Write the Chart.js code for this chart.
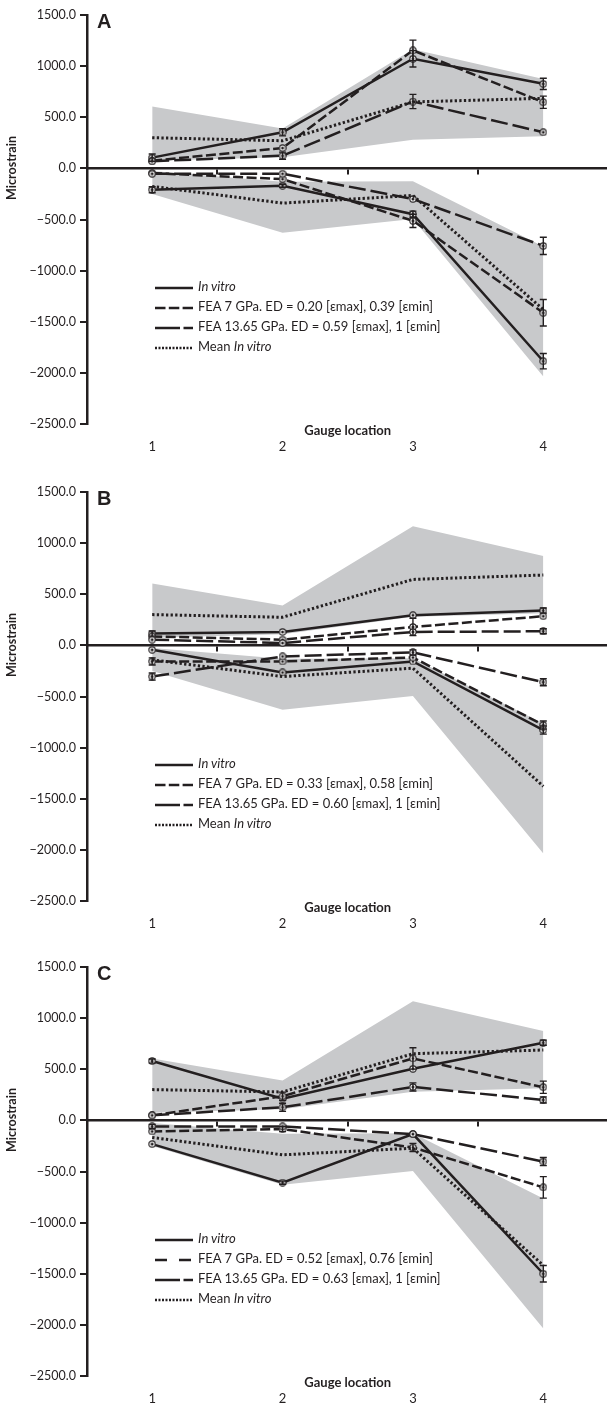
<!DOCTYPE html>
<html>
<head>
<meta charset="utf-8">
<script src="https://cdn.jsdelivr.net/npm/chart.js@4.4.1/dist/chart.umd.min.js"></script>
<style>
html, body { margin: 0; padding: 0; background: #fff; width: 607px; height: 1405px; overflow: hidden; }
.panel { position: absolute; left: 0; width: 615px; height: 456px; }
.panel canvas { position: absolute; left: 0; top: 0; }
.letter { position: absolute; left: 97px; top: 11px; font: bold 20px "Liberation Sans", Arial, sans-serif; line-height: 1; color: #231f20; }
.ytitle { position: absolute; left: -38px; top: 160px; width: 100px; height: 16px; line-height: 16px; text-align: center;
  font: bold 12.5px Lato, sans-serif; color: #231f20; transform: rotate(-90deg); }
.legend { position: absolute; left: 155px; top: 276px; font: 13px Lato, sans-serif; color: #231f20; }
.legend div { height: 20px; line-height: 20px; white-space: nowrap; }
.legend svg { vertical-align: middle; margin-right: 5px; }
</style>
</head>
<body>
<div class="panel" id="pA" style="top:0px"><canvas id="cA" width="615" height="456"></canvas></div>
<div class="panel" id="pB" style="top:477px"><canvas id="cB" width="615" height="456"></canvas></div>
<div class="panel" id="pC" style="top:952px"><canvas id="cC" width="615" height="456"></canvas></div>
<script>
var gauges = ['1', '2', '3', '4'];

// grey in vitro range (same for all panels)
var bandMaxHigh = [605, 390, 1165, 875];
var bandMaxLow = [75, 110, 280, 315];
var bandMinHigh = [-25, -130, -125, -765];
var bandMinLow = [-250, -630, -495, -2035];

// panel A
var aVitroMax = [105, 353, 1072, 827];
var aVitroMin = [-209, -170, -448, -1886];
var aFea7Max = [75, 199, 1154, 647];
var aFea7Min = [-46, -105, -513, -1412];
var aFea13Max = [69, 124, 654, 353];
var aFea13Min = [-52, -52, -300, -758];
var aMeanMax = [300, 270, 650, 685];
var aMeanMin = [-176, -340, -265, -1380];
var aVitroMaxErr = [35, 35, 80, 55];
var aVitroMinErr = [30, 15, 30, 75];
var aFea7MaxErr = [0, 0, 100, 60];
var aFea7MinErr = [0, 0, 65, 130];
var aFea13MaxErr = [0, 35, 70, 0];
var aFea13MinErr = [0, 0, 0, 85];

// panel B
var bVitroMax = [115, 131, 295, 340];
var bVitroMin = [-43, -265, -157, -828];
var bFea7Max = [88, 56, 180, 285];
var bFea7Min = [-157, -157, -118, -779];
var bFea13Max = [56, 23, 131, 138];
var bFea13Min = [-305, -108, -69, -360];
var bMeanMax = [301, 275, 645, 688];
var bMeanMin = [-141, -305, -223, -1378];
var bVitroMaxErr = [25, 0, 0, 25];
var bVitroMinErr = [0, 0, 0, 40];
var bFea7MaxErr = [0, 0, 85, 0];
var bFea7MinErr = [35, 0, 0, 40];
var bFea13MaxErr = [0, 0, 0, 25];
var bFea13MinErr = [35, 0, 25, 35];

// panel C
var cVitroMax = [580, 213, 504, 760];
var cVitroMin = [-232, -609, -134, -1500];
var cFea7Max = [49, 236, 606, 324];
var cFea7Min = [-108, -85, -265, -655];
var cFea13Max = [49, 128, 327, 200];
var cFea13Min = [-59, -59, -134, -403];
var cMeanMax = [301, 278, 652, 688];
var cMeanMin = [-167, -337, -272, -1418];
var cVitroMaxErr = [20, 0, 0, 25];
var cVitroMinErr = [0, 15, 0, 80];
var cFea7MaxErr = [0, 40, 105, 60];
var cFea7MinErr = [0, 25, 40, 105];
var cFea13MaxErr = [0, 40, 40, 30];
var cFea13MinErr = [20, 0, 0, 40];

var ink = '#231f20';
var grey = '#c8c9cb';
var fontFam = 'Lato, sans-serif';

// little ringed dot used as marker
var marker = document.createElement('canvas');
marker.width = 8; marker.height = 8;
(function () {
  var m = marker.getContext('2d');
  m.fillStyle = ink; m.beginPath(); m.arc(4, 4, 3.7, 0, Math.PI * 2); m.fill();
  m.fillStyle = '#fff'; m.beginPath(); m.arc(4, 4, 2.6, 0, Math.PI * 2); m.fill();
  m.fillStyle = ink; m.beginPath(); m.arc(4, 4, 1.5, 0, Math.PI * 2); m.fill();
})();

var errorBars = {
  id: 'errorBars',
  afterDatasetsDraw: function (chart) {
    var c = chart.ctx;
    var yScale = chart.scales.y;
    chart.data.datasets.forEach(function (ds, i) {
      if (!ds.errorBars) return;
      var meta = chart.getDatasetMeta(i);
      meta.data.forEach(function (pt, j) {
        var e = ds.errorBars[j];
        if (!e) return;
        var v = ds.data[j];
        var y1 = yScale.getPixelForValue(v + e);
        var y2 = yScale.getPixelForValue(v - e);
        c.save();
        c.strokeStyle = ink;
        c.lineWidth = 1.4;
        c.beginPath();
        c.moveTo(pt.x, y1); c.lineTo(pt.x, y2);
        c.moveTo(pt.x - 3.5, y1); c.lineTo(pt.x + 3.5, y1);
        c.moveTo(pt.x - 3.5, y2); c.lineTo(pt.x + 3.5, y2);
        c.stroke();
        c.restore();
      });
    });
  }
};

function band(data, fill) {
  return { data: data, fill: fill, backgroundColor: grey, borderWidth: 0, pointRadius: 0, order: 10, tension: 0 };
}
function series(data, dash, errs, pts) {
  return {
    data: data, borderColor: ink, borderWidth: pts ? 2.5 : 3, borderDash: dash, borderCapStyle: 'butt', fill: false, tension: 0,
    pointStyle: pts ? marker : 'circle', pointRadius: pts ? 4 : 0, errorBars: errs, order: 1
  };
}

var shortDash = [10, 3.5];
var longDash = [17, 5];
var dotted = [2.3, 2.3];

function makePanel(id, s) {
  return new Chart(document.getElementById(id), {
    type: 'line',
    data: {
      labels: gauges,
      datasets: [
        band(bandMaxHigh, '+1'), band(bandMaxLow, false),
        band(bandMinHigh, '+1'), band(bandMinLow, false),
        series(s.meanMax, dotted, null, false), series(s.meanMin, dotted, null, false),
        series(s.fea13Max, longDash, s.fea13MaxErr, true), series(s.fea13Min, longDash, s.fea13MinErr, true),
        series(s.fea7Max, shortDash, s.fea7MaxErr, true), series(s.fea7Min, shortDash, s.fea7MinErr, true),
        series(s.vitroMax, [], s.vitroMaxErr, true), series(s.vitroMin, [], s.vitroMinErr, true)
      ]
    },
    options: {
      responsive: false,
      animation: false,
      layout: { padding: { top: 15, right: 4, bottom: 0, left: 0 } },
      plugins: { legend: { display: false }, tooltip: { enabled: false } },
      scales: {
        x: {
          type: 'category', position: { y: 0 }, offset: true,
          grid: { display: true, drawOnChartArea: false, drawTicks: true, tickLength: 5, color: ink, lineWidth: 2, offset: true },
          border: { display: true, color: ink, width: 2.5 },
          ticks: { display: false }
        },
        xTitle: {
          type: 'category', position: 'bottom', weight: 0, offset: true,
          grid: { display: false, drawTicks: false }, border: { display: false }, ticks: { display: false },
          title: { display: true, text: 'Gauge location', color: ink, padding: 0, font: { family: fontFam, size: 13, weight: 'bold' } },
          afterFit: function (sc) { sc.height = 15; }
        },
        xLab: {
          type: 'category', position: 'bottom', weight: 1, offset: true,
          grid: { display: false, drawTicks: false }, border: { display: false },
          ticks: { color: ink, padding: 0, font: { family: fontFam, size: 13 } },
          afterFit: function (sc) { sc.height = 17; }
        },
        y: {
          position: 'left', min: -2500, max: 1500,
          ticks: {
            stepSize: 500, color: ink, padding: 4, font: { family: fontFam, size: 12.5 },
            callback: function (v) { return (v < 0 ? '\u2212' : '') + Math.abs(v).toFixed(1); }
          },
          grid: { drawOnChartArea: false, drawTicks: true, tickLength: 7, color: ink, lineWidth: 2 },
          border: { color: ink, width: 2.5 },
          afterFit: function (sc) { sc.width = 87; }
        }
      }
    },
    plugins: [errorBars]
  });
}

function addText(panelId, letter, fea7Text, fea13Text, fea7Dash) {
  var p = document.getElementById(panelId);
  var l = document.createElement('div'); l.className = 'letter'; l.textContent = letter; p.appendChild(l);
  var t = document.createElement('div'); t.className = 'ytitle'; t.textContent = 'Microstrain'; p.appendChild(t);
  function sample(dash) {
    return '<svg width="38" height="6"><line x1="0" y1="3" x2="38" y2="3" stroke="' + ink + '" stroke-width="2.5"' +
      (dash ? ' stroke-dasharray="' + dash + '"' : '') + '/></svg>';
  }
  var lg = document.createElement('div'); lg.className = 'legend';
  lg.innerHTML =
    '<div>' + sample('') + '<i>In vitro</i></div>' +
    '<div>' + sample(fea7Dash) + fea7Text + '</div>' +
    '<div>' + sample('25 3.5 10 10') + fea13Text + '</div>' +
    '<div>' + sample('2 1.5') + 'Mean <i>In vitro</i></div>';
  p.appendChild(lg);
}

makePanel('cA', {
  vitroMax: aVitroMax, vitroMin: aVitroMin, fea7Max: aFea7Max, fea7Min: aFea7Min,
  fea13Max: aFea13Max, fea13Min: aFea13Min, meanMax: aMeanMax, meanMin: aMeanMin,
  vitroMaxErr: aVitroMaxErr, vitroMinErr: aVitroMinErr, fea7MaxErr: aFea7MaxErr, fea7MinErr: aFea7MinErr,
  fea13MaxErr: aFea13MaxErr, fea13MinErr: aFea13MinErr
});
makePanel('cB', {
  vitroMax: bVitroMax, vitroMin: bVitroMin, fea7Max: bFea7Max, fea7Min: bFea7Min,
  fea13Max: bFea13Max, fea13Min: bFea13Min, meanMax: bMeanMax, meanMin: bMeanMin,
  vitroMaxErr: bVitroMaxErr, vitroMinErr: bVitroMinErr, fea7MaxErr: bFea7MaxErr, fea7MinErr: bFea7MinErr,
  fea13MaxErr: bFea13MaxErr, fea13MinErr: bFea13MinErr
});
makePanel('cC', {
  vitroMax: cVitroMax, vitroMin: cVitroMin, fea7Max: cFea7Max, fea7Min: cFea7Min,
  fea13Max: cFea13Max, fea13Min: cFea13Min, meanMax: cMeanMax, meanMin: cMeanMin,
  vitroMaxErr: cVitroMaxErr, vitroMinErr: cVitroMinErr, fea7MaxErr: cFea7MaxErr, fea7MinErr: cFea7MinErr,
  fea13MaxErr: cFea13MaxErr, fea13MinErr: cFea13MinErr
});

addText('pA', 'A', 'FEA 7 GPa. ED = 0.20 [\u03b5max], 0.39 [\u03b5min]', 'FEA 13.65 GPa. ED = 0.59 [\u03b5max], 1 [\u03b5min]', '10.5 3.3');
addText('pB', 'B', 'FEA 7 GPa. ED = 0.33 [\u03b5max], 0.58 [\u03b5min]', 'FEA 13.65 GPa. ED = 0.60 [\u03b5max], 1 [\u03b5min]', '10.5 3.3');
addText('pC', 'C', 'FEA 7 GPa. ED = 0.52 [\u03b5max], 0.76 [\u03b5min]', 'FEA 13.65 GPa. ED = 0.63 [\u03b5max], 1 [\u03b5min]', '12 12');
</script>
</body>
</html>
